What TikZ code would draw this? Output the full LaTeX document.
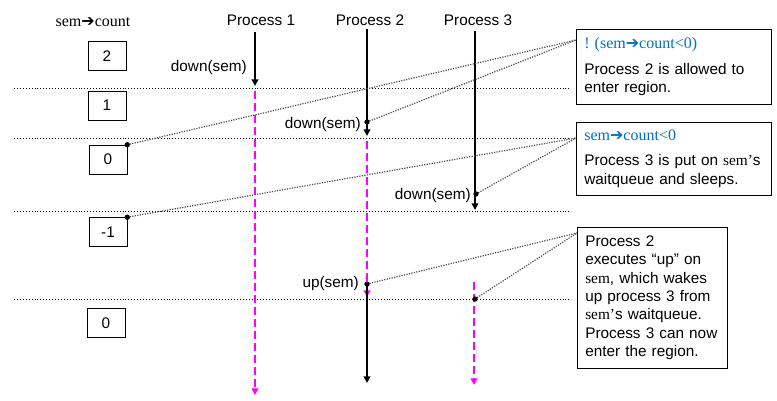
\documentclass[tikz,border=0pt]{standalone}
\usepackage{fontspec}
\setmainfont{Liberation Sans}
\newfontfamily\semfont{Liberation Serif}
\newfontfamily\arrfont{DejaVu Sans}
\usetikzlibrary{arrows.meta}
\definecolor{noteblue}{RGB}{0,112,192}
\definecolor{waitpink}{RGB}{255,0,255}
\newcommand{\semname}{{\semfont sem}}
\newcommand{\semcount}{{\semfont sem{\arrfont\char"2794}count}}

\begin{document}
\begin{tikzpicture}[x=0.75pt,y=-0.75pt,font=\fontsize{11.5}{13.8}\selectfont,
    valbox/.style={draw,minimum width=28.5pt,minimum height=21.75pt,inner sep=0pt},
    note/.style={draw,anchor=north west,align=left,inner xsep=6pt,inner ysep=0pt},
    lbl/.style={inner sep=0pt},
    run/.style={line width=1.6pt,-{Triangle[length=5pt,width=5pt]}},
    idle/.style={waitpink,line width=1.6pt,dash pattern=on 6pt off 3pt,-{Triangle[length=5pt,width=5pt]}},
    link/.style={densely dotted,gray!60!black,line width=0.9pt},
    level/.style={dash pattern=on 0.6pt off 1.6pt,line width=0.6pt}]
    \useasboundingbox (0,0) rectangle (777,400);

    \draw[level] (14,88)--(570,88);
    \draw[level] (14,138)--(570,138);
    \draw[level] (14,211)--(570,211);
    \draw[level] (14,299)--(570,299);

    \node[lbl] (semcnt) at (93,22) {\fontsize{12}{14}\selectfont\semcount};
    \node[valbox,fill=white] (v2) at (107,56) {2};
    \node[valbox,fill=white] (v1) at (107,105.5) {1};
    \node[valbox,fill=white] (v0) at (108,159.5) {0};
    \node[valbox,fill=white] (vm1) at (108,232) {-1};
    \node[valbox,fill=white] (v0b) at (106,323) {0};

    \node (p1) at (261,20) {Process 1};
    \node (p2) at (370,20) {Process 2};
    \node (p3) at (478,20) {Process 3};

    \coordinate (p1top) at (255,32);
    \coordinate (p1down) at (255,86);
    \coordinate (p1wait) at (255,91);
    \coordinate (p1end) at (255,395);
    \coordinate (p2top) at (367,29);
    \coordinate (p2down) at (367,122);
    \coordinate (p2stop) at (367,136);
    \coordinate (p2wait) at (367,141);
    \coordinate (p2waitend) at (367,297);
    \coordinate (p2up) at (367,284);
    \coordinate (p2end) at (367,383);
    \coordinate (p3top) at (475,31);
    \coordinate (p3down) at (476,194);
    \coordinate (p3stop) at (475,210);
    \coordinate (p3wait) at (474,282);
    \coordinate (p3wake) at (475,299);
    \coordinate (p3end) at (474,385);

    \draw[run] (p1top)--(p1down);
    \draw[idle] (p1wait)--(p1end);
    \draw[run] (p2top)--(p2stop);
    \draw[idle] (p2wait)--(p2waitend);
    \draw[run] (p2up)--(p2end);
    \draw[run] (p3top)--(p3stop);
    \draw[idle] (p3wait)--(p3end);

    \node[lbl,anchor=east] (d1) at (247,68) {down(sem)};
    \node[lbl,anchor=east] (d2) at (361,125) {down(sem)};
    \node[lbl,anchor=east] (d3) at (471,196) {down(sem)};
    \node[lbl,anchor=east] (u2) at (359,284) {up(sem)};

    \node[note,text width=134.25pt,minimum height=56.25pt] (n1) at (576,29)
        {{\color{noteblue}\fontsize{12}{13.8}\selectfont\semfont !\ (sem{\arrfont\char"2794}count<0)}\\[5pt]
        Process 2 is allowed to\\ enter region.};
    \node[note,text width=134.25pt,minimum height=54.75pt] (n2) at (576,122)
        {{\color{noteblue}\fontsize{12}{13.8}\selectfont\semfont sem{\arrfont\char"2794}count<0}\\[5pt]
        Process 3 is put on {\semfont sem’}s\\ waitqueue and sleeps.};
    \node[note,text width=100.5pt,minimum height=105.75pt] (n3) at (577,227)
        {Process 2\\ executes “up” on\\ \semname, which wakes\\ up process 3 from\\
        {\semfont sem’}s waitqueue.\\ Process 3 can now\\ enter the region.};

    \coordinate (n1in) at ([yshift=-8.25pt]n1.north west);
    \coordinate (n2in) at ([yshift=-12pt]n2.north west);
    \coordinate (n3in) at ([yshift=-4.5pt]n3.north west);

    \draw[link] (v0.north east)--(n1in);
    \draw[link] (p2down)--(n1in);
    \draw[link] (vm1.north east)--(n2in);
    \draw[link] (p3down)--(n2in);
    \draw[link] (p2up)--(n3in);
    \draw[link] (p3wake)--(n3in);

    \fill (v0.north east) circle (2pt);
    \fill (vm1.north east) circle (2pt);
    \fill (p2down) circle (2pt);
    \fill (p3down) circle (2pt);
    \fill (p2up) circle (2pt);
    \fill (p3wake) circle (2pt);
\end{tikzpicture}
\end{document}
